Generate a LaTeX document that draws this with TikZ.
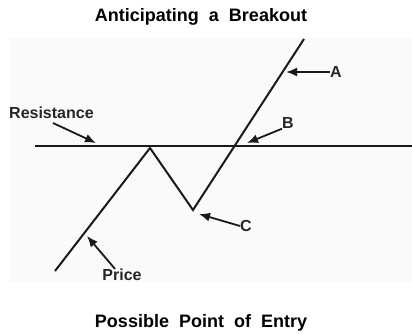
\documentclass[tikz,border=0pt]{standalone}
\usepackage{fontspec}
\setmainfont{Liberation Sans}
\usetikzlibrary{arrows.meta}
\begin{document}
\begin{tikzpicture}[x=1pt,y=-1pt,
  price/.style={line width=2pt,black!90,line join=miter},
  resline/.style={line width=2pt,black!90},
  pointer/.style={line width=1.8pt,black!90,-{Latex[length=11pt,width=9pt]}},
  title/.style={font=\fontsize{18}{20}\selectfont\bfseries,inner sep=0pt},
  lab/.style={font=\fontsize{16}{18}\selectfont\bfseries,inner sep=0pt,text=black!85}]
\useasboundingbox (0,0) rectangle (412,334);
\fill[white] (0,0) rectangle (412,334);
\fill[black!2] (10,38) rectangle (412,282);
% titles
\node[title] (t1) at (201,17) {Anticipating\ \ a\ \ Breakout};
\node[title] (t2) at (201,323) {Possible\ \ Point\ \ of\ \ Entry};
% geometry
\coordinate (start) at (55,271);
\coordinate (peak) at (150,148);
\coordinate (low) at (193,210);
\coordinate (top) at (304,39);
\coordinate (r1) at (35,146);
\coordinate (r2) at (412,146);
\draw[resline] (r1) -- (r2);
\draw[price] (start) -- (peak) -- (low) -- (top);
% labels
\node[lab,anchor=west] (lres) at (9,113) {Resistance};
\node[lab] (lA) at (336,72) {A};
\node[lab] (lB) at (288,123) {B};
\node[lab] (lC) at (246,226) {C};
\node[lab] (lP) at (122,275) {Price};
% pointer ends
\coordinate (tres) at (53,123);
\coordinate (hres) at (96,143);
\coordinate (hA) at (286,72);
\coordinate (hB) at (247,143);
\coordinate (hC) at (199,214);
\coordinate (hP) at (87,236);
\draw[pointer] (tres) -- (hres);
\draw[pointer] (lA.west) -- (hA);
\draw[pointer] (lB.south west) -- (hB);
\draw[pointer] (lC.west) -- (hC);
\draw[pointer] ([xshift=-7pt]lP.north) -- (hP);
\end{tikzpicture}
\end{document}
